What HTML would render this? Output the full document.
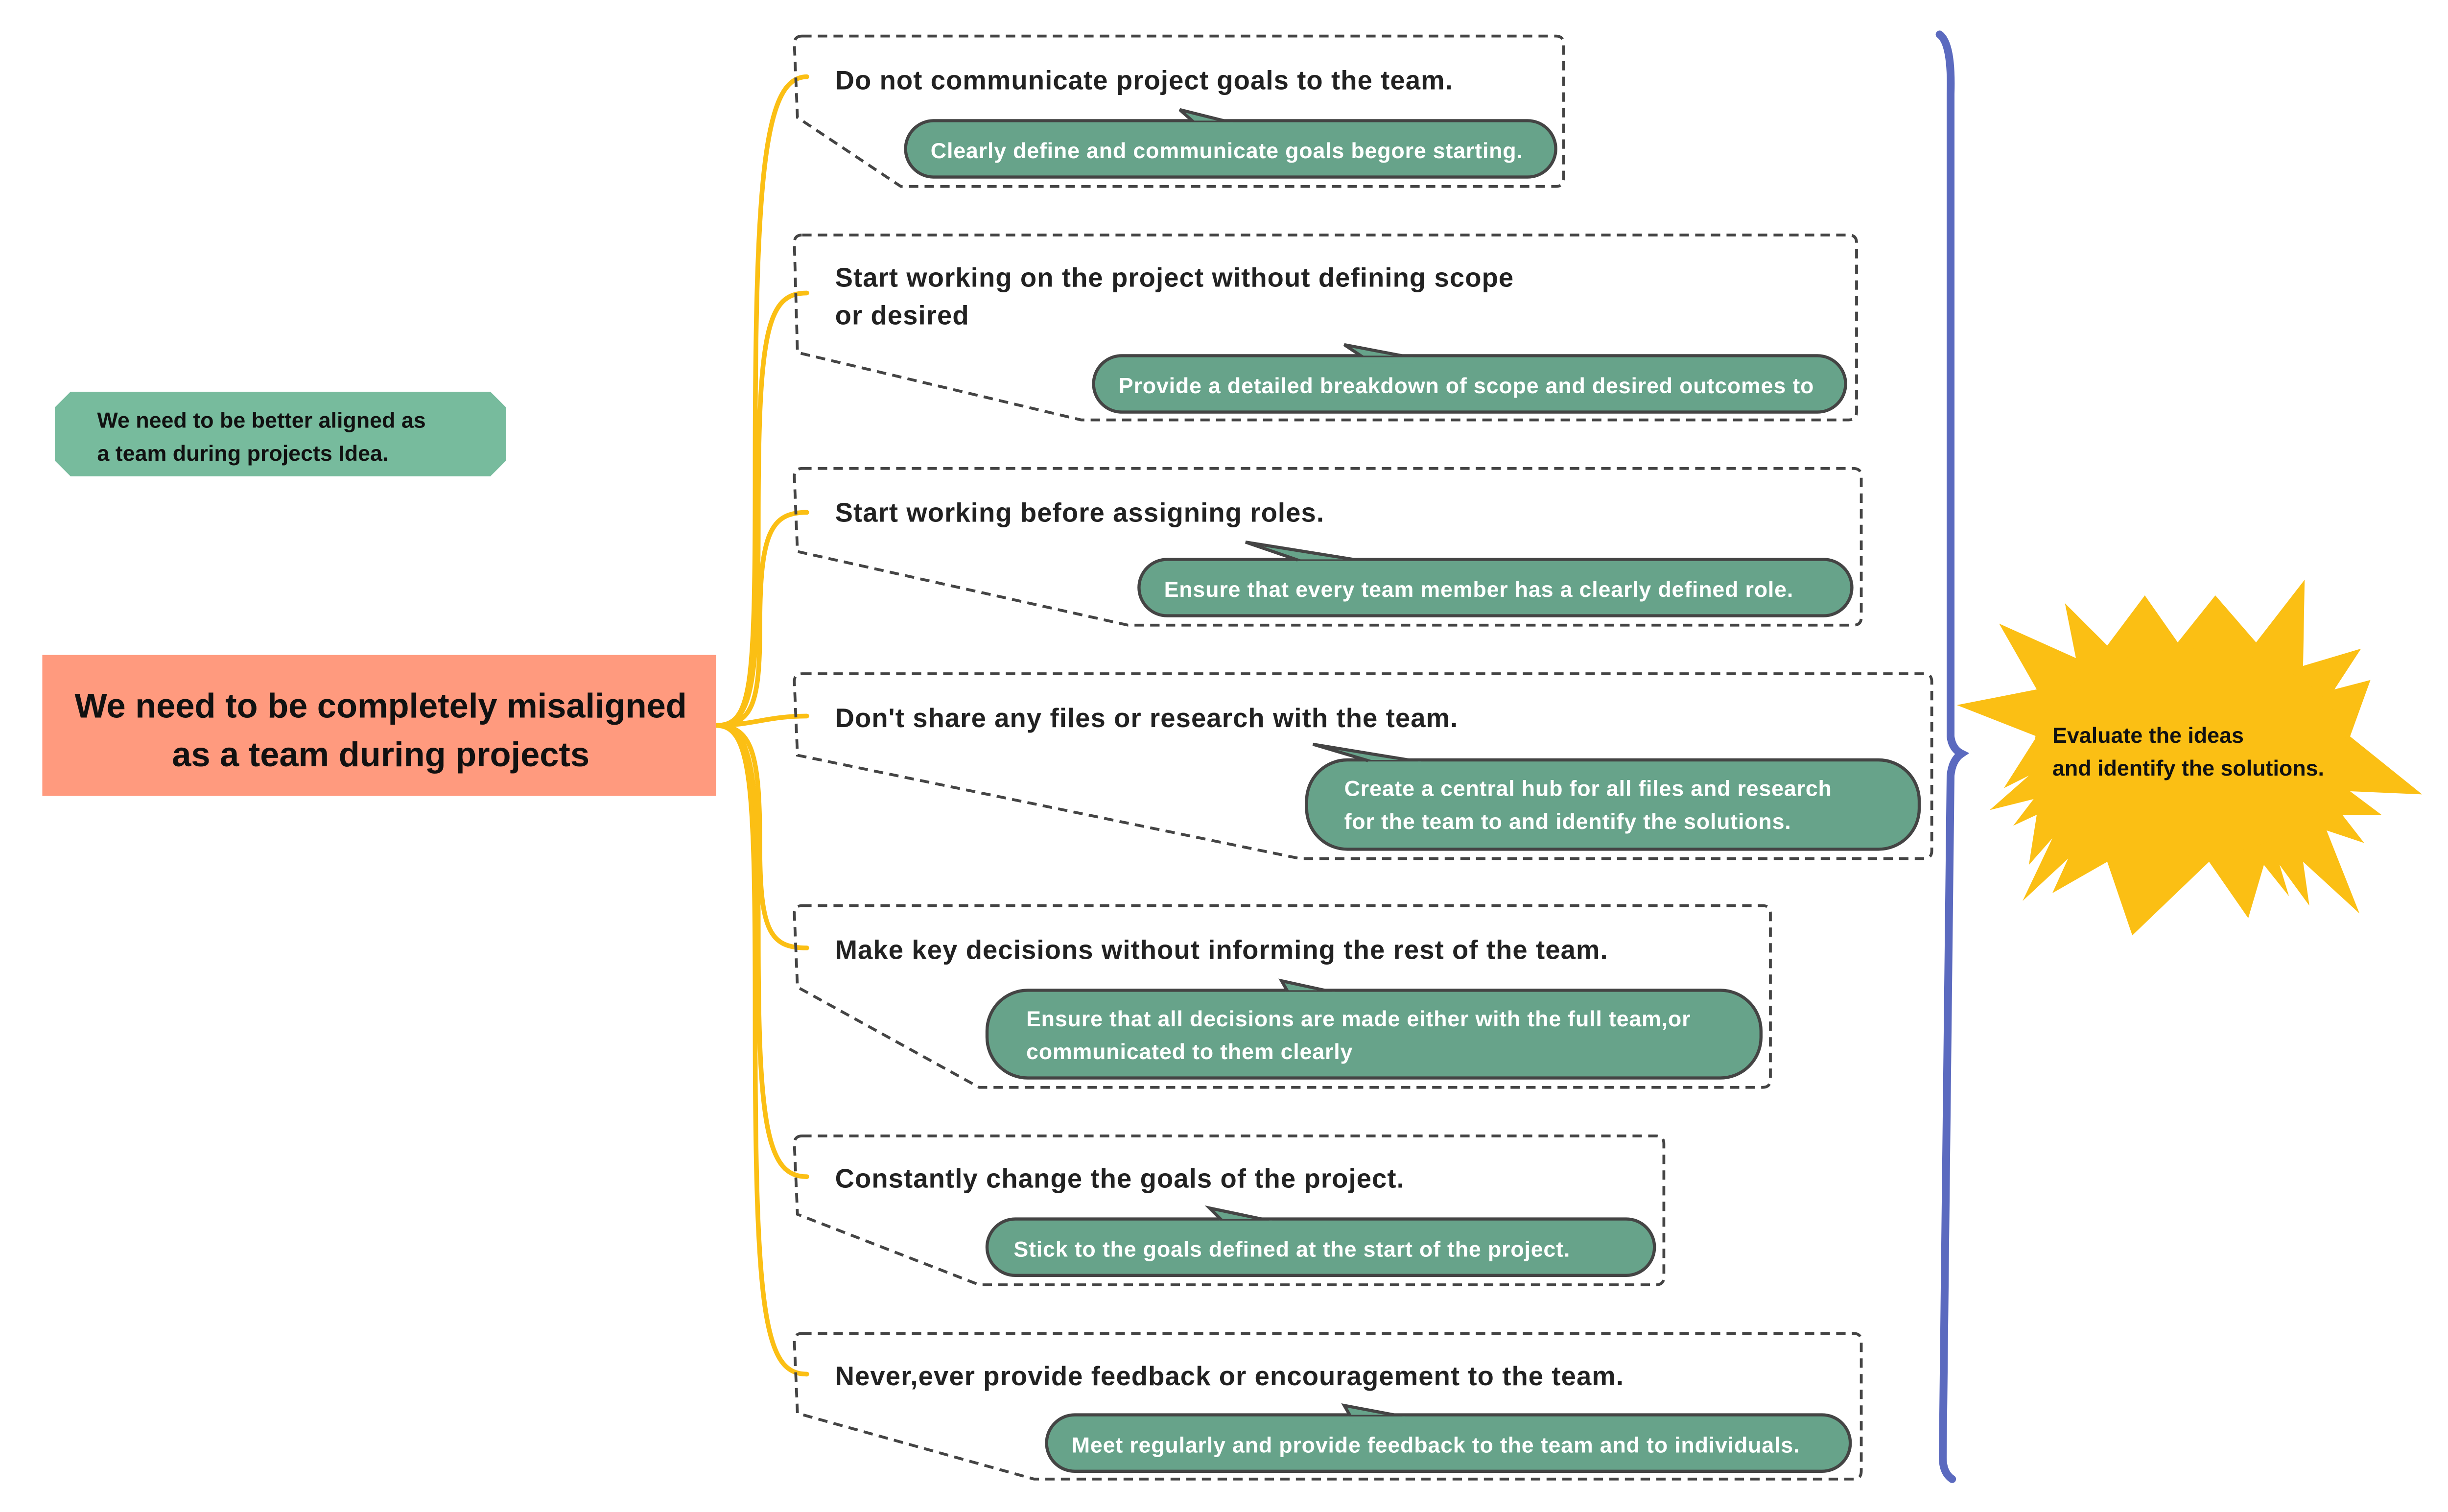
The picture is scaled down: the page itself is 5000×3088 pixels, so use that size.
<!DOCTYPE html>
<html><head><meta charset="utf-8"><style>
html,body{margin:0;padding:0;background:#fff;}
svg{display:block}
text{font-family:"Liberation Sans",sans-serif;font-weight:bold}
</style></head><body>
<svg width="5000" height="3088" viewBox="0 0 1562.5 965" xmlns="http://www.w3.org/2000/svg">
<rect x="0" y="0" width="1562.5" height="965" fill="#fff"/>
<g fill="none" stroke="#FBBF14" stroke-width="3" stroke-linecap="round">
<path d="M457,463 C480,463 482,440 482,300 C482,110 488,49 515,49"/>
<path d="M457,463 C480,463 484,440 484,330 C484,210 490,187 515,187"/>
<path d="M457,463 C480,463 485,450 485,400 C485,340 492,327 515,327"/>
<path d="M457,463 C480,463 490,457 515,457"/>
<path d="M457,463 C480,463 485,480 485,540 C485,595 492,605 515,605"/>
<path d="M457,463 C480,463 484,490 484,600 C484,720 490,751 515,751"/>
<path d="M457,463 C480,463 482,500 482,650 C482,840 488,877 515,877"/>
</g>
<rect x="27" y="418" width="430" height="90" fill="#FF9A7E"/>
<text x="243" y="458" font-size="22" text-anchor="middle" fill="#111">We need to be completely misaligned</text>
<text x="243" y="489" font-size="22" text-anchor="middle" fill="#111">as a team during projects</text>
<polygon points="45,250 313,250 323,260 323,294 313,304 45,304 35,294 35,260" fill="#77BB9D"/>
<text x="62" y="273" font-size="14" fill="#111">We need to be better aligned as</text>
<text x="62" y="294" font-size="14" fill="#111">a team during projects Idea.</text>
<g fill="none" stroke="#444" stroke-width="1.8" stroke-dasharray="6,4">
<path d="M512,23 L993,23 Q998,23 998,28 L998,114 Q998,119 993,119 L575,119 L509,75 L507,28 Q507,23 512,23Z"/>
<path d="M512,150 L1180,150 Q1185,150 1185,155 L1185,263 Q1185,268 1180,268 L690,268 L509,225 L507,155 Q507,150 512,150Z"/>
<path d="M512,299 L1183,299 Q1188,299 1188,304 L1188,394 Q1188,399 1183,399 L720,399 L509,352 L507,304 Q507,299 512,299Z"/>
<path d="M512,430 L1228,430 Q1233,430 1233,435 L1233,543 Q1233,548 1228,548 L830,548 L509,482 L507,435 Q507,430 512,430Z"/>
<path d="M512,578 L1125,578 Q1130,578 1130,583 L1130,689 Q1130,694 1125,694 L625,694 L509,630 L507,583 Q507,578 512,578Z"/>
<path d="M512,725 L1057,725 Q1062,725 1062,730 L1062,815 Q1062,820 1057,820 L625,820 L509,775 L507,730 Q507,725 512,725Z"/>
<path d="M512,851 L1183,851 Q1188,851 1188,856 L1188,939 Q1188,944 1183,944 L660,944 L509,902 L507,856 Q507,851 512,851Z"/>
</g>
<g font-size="17" fill="#222" letter-spacing="0.35">
<text x="533" y="57">Do not communicate project goals to the team.</text>
<text x="533" y="183">Start working on the project without defining scope</text>
<text x="533" y="207">or desired</text>
<text x="533" y="333">Start working before assigning roles.</text>
<text x="533" y="464">Don't share any files or research with the team.</text>
<text x="533" y="612">Make key decisions without informing the rest of the team.</text>
<text x="533" y="758">Constantly change the goals of the project.</text>
<text x="533" y="884">Never,ever provide feedback or encouragement to the team.</text>
</g>
<g fill="#67A38A" stroke="#444" stroke-width="2">
<rect x="578" y="77" width="415" height="36" rx="18"/>
<polygon points="762,78 753,70 785,78"/>
<rect x="698" y="227" width="480" height="36" rx="18"/>
<polygon points="870,228 858,220 900,228"/>
<rect x="727" y="357" width="455" height="36" rx="18"/>
<polygon points="830,358 795,346 870,358"/>
<rect x="834" y="485" width="391" height="57" rx="26"/>
<polygon points="875,486 838,475 905,486"/>
<rect x="630" y="632" width="494" height="56" rx="26"/>
<polygon points="822,633 818,626 850,633"/>
<rect x="630" y="778" width="426" height="36" rx="18"/>
<polygon points="780,779 772,771 810,779"/>
<rect x="668" y="903" width="513" height="36" rx="18"/>
<polygon points="862,904 858,897 895,904"/>
</g>
<g fill="#67A38A">
<rect x="760" y="78" width="27" height="4"/>
<rect x="868" y="228" width="34" height="4"/>
<rect x="828" y="358" width="44" height="4"/>
<rect x="873" y="486" width="34" height="4"/>
<rect x="820" y="633" width="32" height="4"/>
<rect x="778" y="779" width="34" height="4"/>
<rect x="860" y="904" width="37" height="4"/>
</g>
<g font-size="14" fill="#fff" letter-spacing="0.25">
<text x="594" y="101">Clearly define and communicate goals begore starting.</text>
<text x="714" y="251">Provide a detailed breakdown of scope and desired outcomes to</text>
<text x="743" y="381">Ensure that every team member has a clearly defined role.</text>
<text x="858" y="508">Create a central hub for all files and research</text>
<text x="858" y="529">for the team to and identify the solutions.</text>
<text x="655" y="655">Ensure that all decisions are made either with the full team,or</text>
<text x="655" y="676">communicated to them clearly</text>
<text x="647" y="802">Stick to the goals defined at the start of the project.</text>
<text x="684" y="927">Meet regularly and provide feedback to the team and to individuals.</text>
</g>
<path d="M1238,22 Q1246,28 1245,60 L1245,470 Q1246,478 1252,481 Q1246,485 1245,495 L1240,930 Q1240,940 1246,944" fill="none" stroke="#5B6ABF" stroke-width="5" stroke-linecap="round"/>
<path fill="#FBBF14" d="M1249,450 L1300,440 L1276,398 L1325,420 L1318,385 L1345,412 L1369,380 L1390,410 L1414,380 L1440,410 L1471,370 L1470,425 L1507,414 L1490,440 L1513,434 L1500,470 L1546,507 L1500,505 L1520,520 L1495,520 L1509,538 L1485,530 L1506,583 L1470,550 L1474,578 L1455,552 L1461,572 L1445,552 L1435,586 L1410,550 L1361,597 L1345,550 L1310,570 L1320,548 L1291,575 L1310,535 L1295,552 L1300,520 L1285,527 L1298,510 L1270,517 L1295,495 L1279,503 L1300,470 Z"/>
<ellipse cx="1398" cy="480" rx="100" ry="66" fill="#FBBF14"/>
<text x="1310" y="474" font-size="14" fill="#111">Evaluate the ideas</text>
<text x="1310" y="495" font-size="14" fill="#111">and identify the solutions.</text>
</svg>
</body></html>
